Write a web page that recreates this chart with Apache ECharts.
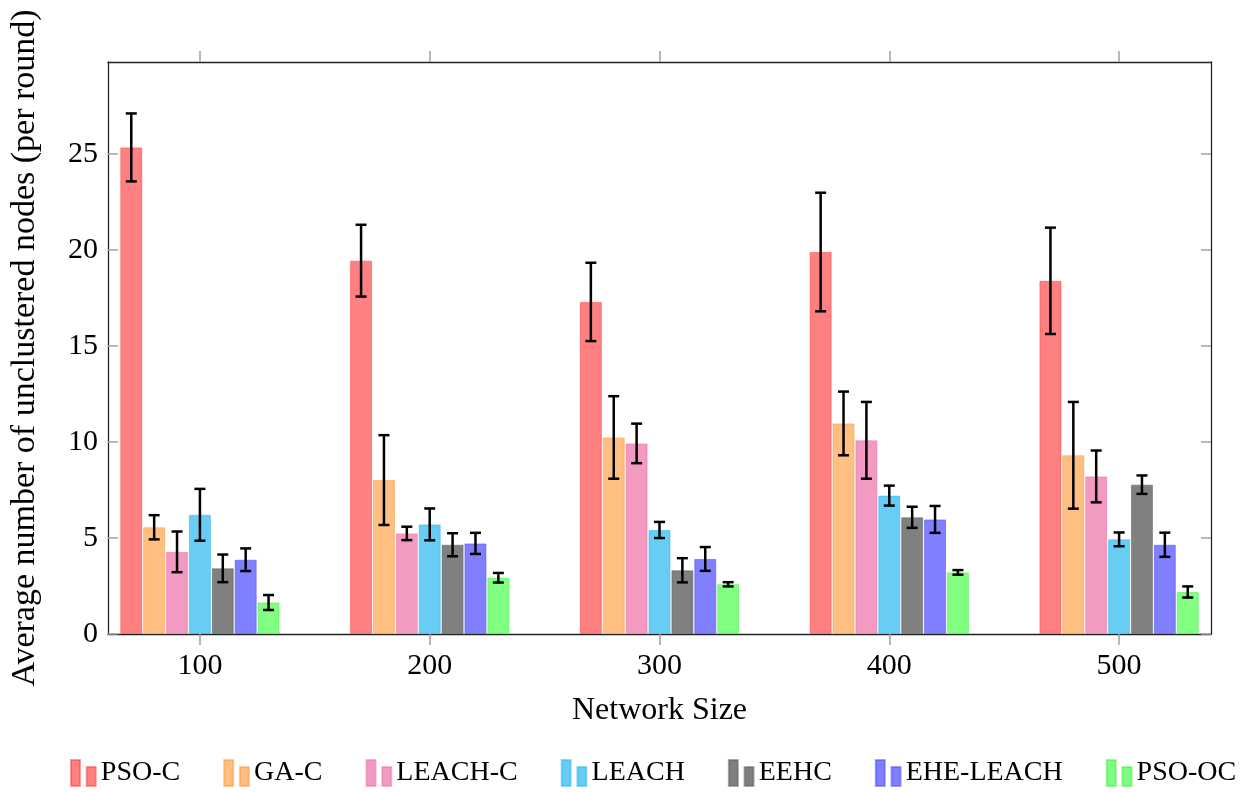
<!DOCTYPE html>
<html>
<head>
<meta charset="utf-8">
<script src="https://cdn.jsdelivr.net/npm/echarts@6/dist/echarts.min.js"></script>
<style>html,body{margin:0;padding:0;background:#fff;}#c{width:1256px;height:792px;}</style>
</head>
<body>
<div id="c"></div>
<script>
// ---- data ----
const networkSizes = [100, 200, 300, 400, 500];
const seriesNames = ['PSO-C', 'GA-C', 'LEACH-C', 'LEACH', 'EEHC', 'EHE-LEACH', 'PSO-OC'];
const psoC      = [25.35, 19.45, 17.30, 19.90, 18.40];
const psoCErr   = [1.77, 1.87, 2.04, 3.09, 2.77];
const gaC       = [5.56, 8.02, 10.24, 10.97, 9.31];
const gaCErr    = [0.63, 2.34, 2.15, 1.66, 2.78];
const leachC    = [4.28, 5.24, 9.93, 10.09, 8.21];
const leachCErr = [1.06, 0.35, 1.03, 2.00, 1.35];
const leach     = [6.21, 5.71, 5.42, 7.21, 4.93];
const leachErr  = [1.35, 0.83, 0.42, 0.52, 0.36];
const eehc      = [3.42, 4.65, 3.32, 6.08, 7.78];
const eehcErr   = [0.72, 0.60, 0.63, 0.55, 0.48];
const eheLeach  = [3.87, 4.72, 3.91, 5.97, 4.65];
const eheLeachErr = [0.59, 0.55, 0.62, 0.70, 0.63];
const psoOC     = [1.64, 2.93, 2.59, 3.21, 2.19];
const psoOCErr  = [0.39, 0.25, 0.11, 0.12, 0.29];
const yTicks = [0, 5, 10, 15, 20, 25];

const means = [psoC, gaC, leachC, leach, eehc, eheLeach, psoOC];
const errs = [psoCErr, gaCErr, leachCErr, leachErr, eehcErr, eheLeachErr, psoOCErr];
const colors = ['#FF8080', '#FFBF80', '#F39AC3', '#68CDF4', '#808080', '#8080FF', '#80FF80'];
const borders = ['rgba(255,60,60,0.5)', 'rgba(255,150,60,0.5)', 'rgba(235,110,170,0.5)', 'rgba(40,180,240,0.5)', 'rgba(90,90,90,0.5)', 'rgba(70,70,255,0.5)', 'rgba(60,240,60,0.5)'];

const BAR_W = 22, BAR_GAP = 0.04;
const PITCH = BAR_W * (1 + BAR_GAP);
const FONT = '"Liberation Serif", "Times New Roman", serif';
const legendIcon = 'path://M0,0H9V26H0Z M15.7,7H24.7V26H15.7Z';

const series = seriesNames.map((name, i) => ({
  name: name,
  type: 'bar',
  barWidth: BAR_W,
  barGap: (BAR_GAP * 100) + '%',
  data: networkSizes.map((x, j) => [x, means[i][j]]),
  itemStyle: { color: colors[i], borderColor: borders[i], borderWidth: 1 },
  emphasis: { disabled: true },
  animation: false
}));

const errData = [];
seriesNames.forEach((n, i) => {
  networkSizes.forEach((x, j) => {
    errData.push([x, i, means[i][j] - errs[i][j], means[i][j] + errs[i][j]]);
  });
});

series.push({
  type: 'custom',
  name: 'err',
  z: 10,
  silent: true,
  animation: false,
  encode: { x: 0, y: [2, 3] },
  data: errData,
  renderItem: function (params, api) {
    const x = api.value(0), s = api.value(1), lo = api.value(2), hi = api.value(3);
    const pLo = api.coord([x, lo]), pHi = api.coord([x, hi]);
    const cx = pLo[0] + (s - 3) * PITCH;
    const st = { stroke: '#000', lineWidth: 2.5 };
    const cw = 5.5;
    return {
      type: 'group',
      children: [
        { type: 'line', shape: { x1: cx, y1: pLo[1], x2: cx, y2: pHi[1] }, style: st },
        { type: 'line', shape: { x1: cx - cw, y1: pHi[1], x2: cx + cw, y2: pHi[1] }, style: st },
        { type: 'line', shape: { x1: cx - cw, y1: pLo[1], x2: cx + cw, y2: pLo[1] }, style: st }
      ]
    };
  }
});

const frameLine = { show: true, onZero: false, lineStyle: { color: '#222', width: 1.3 } };
const tickStyle = { color: '#a0a0a0', width: 1.5 };

const option = {
  backgroundColor: '#fff',
  animation: false,
  grid: { left: 107, right: 45, top: 62, bottom: 158, containLabel: false },
  legend: {
    data: seriesNames.map(n => ({ name: n, icon: legendIcon })),
    left: 65,
    top: 754,
    itemWidth: 25,
    itemHeight: 26,
    itemGap: 43,
    selectedMode: false,
    textStyle: { fontFamily: FONT, fontSize: 28, color: '#000', padding: [4, 0, 0, 0] }
  },
  xAxis: [
    {
      type: 'value', position: 'bottom', min: 60, max: 540,
      name: 'Network Size', nameLocation: 'middle', nameGap: 61,
      nameTextStyle: { fontFamily: FONT, fontSize: 32, color: '#000' },
      axisLine: frameLine,
      axisTick: { show: true, inside: false, length: 11, lineStyle: tickStyle, customValues: networkSizes },
      axisLabel: { show: true, customValues: networkSizes, fontFamily: FONT, fontSize: 30, color: '#000', margin: 17 },
      splitLine: { show: false }
    },
    {
      type: 'value', position: 'top', min: 60, max: 540,
      axisLine: frameLine,
      axisTick: { show: true, inside: false, length: 11, lineStyle: tickStyle, customValues: networkSizes },
      axisLabel: { show: false },
      splitLine: { show: false }
    }
  ],
  yAxis: [
    {
      type: 'value', position: 'left', min: 0, max: 29.8,
      name: 'Average number of unclustered nodes (per round)', nameLocation: 'middle', nameGap: 66,
      nameTextStyle: { fontFamily: FONT, fontSize: 34, color: '#000' },
      axisLine: frameLine,
      axisTick: { show: true, inside: true, length: 10, lineStyle: tickStyle, customValues: yTicks },
      axisLabel: { show: true, customValues: yTicks, fontFamily: FONT, fontSize: 30, color: '#000', margin: 10 },
      splitLine: { show: false }
    },
    {
      type: 'value', position: 'right', min: 0, max: 29.8,
      axisLine: frameLine,
      axisTick: { show: true, inside: true, length: 10, lineStyle: tickStyle, customValues: yTicks },
      axisLabel: { show: false },
      splitLine: { show: false }
    }
  ],
  series: series
};

const chart = echarts.init(document.getElementById('c'), null, { renderer: 'canvas' });
chart.setOption(option);
</script>
</body>
</html>
